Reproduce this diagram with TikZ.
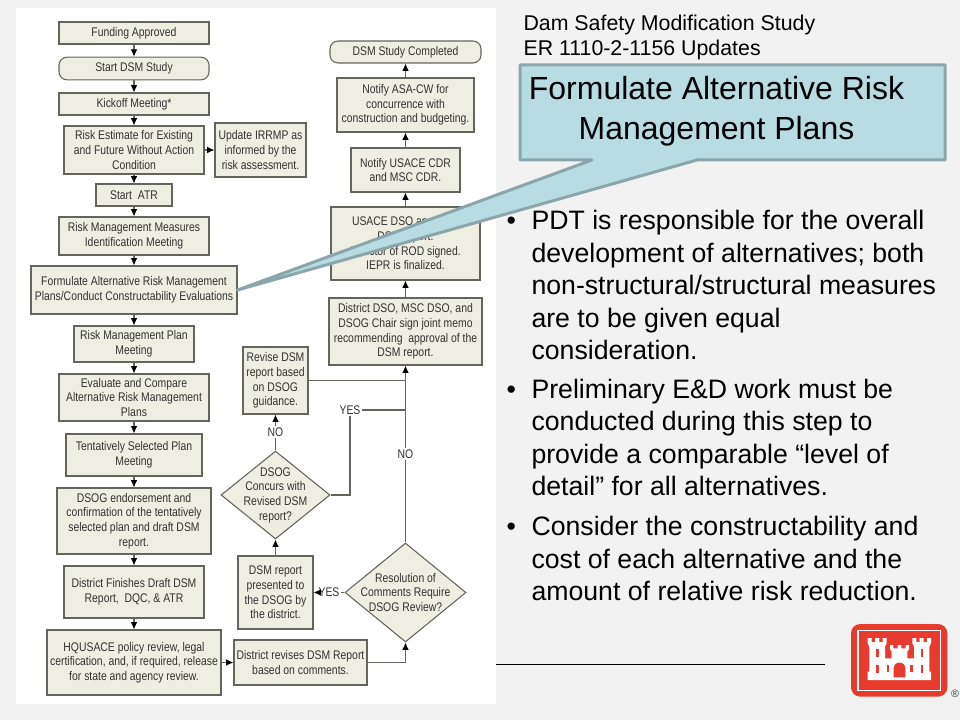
\documentclass[tikz,border=0pt]{standalone}
\usepackage{fontspec}
\setmainfont{Liberation Sans}
\newfontfamily\chartfont[FakeStretch=.83]{Liberation Sans}
\usetikzlibrary{arrows.meta,shapes.geometric}
\definecolor{slide}{HTML}{F2F2F2}
\definecolor{boxfill}{HTML}{EEEEE2}
\definecolor{boxline}{HTML}{63665D}
\definecolor{ink}{HTML}{333333}
\definecolor{callfill}{HTML}{B7DDE3}
\definecolor{callline}{HTML}{8AA6AB}
\definecolor{armyred}{HTML}{E63B2E}
\tikzset{sc/.style={x=.75pt,y=-.75pt,line width=.8pt},
  box/.style={draw=boxline,fill=boxfill,inner sep=0pt,align=center,text=ink,font=\chartfont\fontsize{9.4}{11}\selectfont},
  pill/.style={box,rounded corners=6pt},
  dmd/.style={draw=boxline,fill=boxfill,diamond,inner sep=0pt},
  lab/.style={inner sep=1pt,text=ink,font=\chartfont\fontsize{9.4}{11}\selectfont},
  dmdtext/.style={lab,inner sep=0pt,align=center},
  link/.style={draw=boxline},
  flow/.style={link,-{Latex[length=5.5pt,width=5pt,color=black]}},
  body/.style={anchor=north west,inner sep=0pt,align=left,font=\fontsize{20}{24.3}\selectfont}}

\begin{document}
\begin{tikzpicture}[sc]
  \useasboundingbox (0,0) rectangle (960,720);
  \fill[slide] (0,0) rectangle (960,720);
  \fill[white] (16,8) rectangle (496,704);
  \draw[black,line width=.75pt] (496,664)--(825,664);
  % left column, right column, side boxes
  \foreach \nm/\xa/\ya/\xb/\yb/\t in {fund/59/22/209/44/{Funding Approved},kick/59/93/209/115/{Kickoff Meeting*},
    risk/64/126/204/174/{Risk Estimate for Existing\\and Future Without Action\\Condition},
    upd/215/123/306/177/{Update IRRMP as\\informed by the\\risk assessment.},
    atr/96/184/172/206/{Start~ ATR},meas/59/217/209/255/{Risk Management Measures\\Identification Meeting},
    form/31/266/237/314/{Formulate Alternative Risk Management\\Plans/Conduct Constructability Evaluations},
    rmp/74/326/194/362/{Risk Management Plan\\Meeting},comp/59/374/209/421/{Evaluate and Compare\\Alternative Risk Management\\Plans},
    tent/66/434/202/476/{Tentatively Selected Plan\\Meeting},
    endo/57/488/211/554/{DSOG endorsement and\\confirmation of the tentatively\\selected plan and draft DSM\\report.},
    fin/64/566/204/618/{District Finishes Draft DSM\\Report,~ DQC, \& ATR},
    hq/47/630/221/695/{HQUSACE policy review, legal\\certification, and, if required, release\\for state and agency review.},
    asa/337/78/474/132/{Notify ASA-CW for\\concurrence with\\construction and budgeting.},
    cdr/351/148/460/192/{Notify USACE CDR\\and MSC CDR.},
    dso/331/207/480/280/{USACE DSO approves\\DSM report.\\Director of ROD signed.\\IEPR is finalized.},
    memo/329/298/482/365/{District DSO, MSC DSO, and\\DSOG Chair sign joint memo\\recommending~ approval of the\\DSM report.},
    rev/243/347/308/414/{Revise DSM\\report based\\on DSOG\\guidance.},
    pres/238/556/313/629/{DSM report\\presented to\\the DSOG by\\the district.},
    drev/234/640/367/685/{District revises DSM Report\\based on comments.}}{
    \node[box,minimum width={(\xb-\xa)*.75pt},minimum height={(\yb-\ya)*.75pt}] (\nm) at ({(\xa+\xb)/2},{(\ya+\yb)/2}) {\t};}
  \node[pill,minimum width=112.5pt,minimum height=17pt] (start) at (134,68.5) {Start DSM Study};
  \node[pill,minimum width=113.25pt,minimum height=16.5pt] (done) at (405.5,52) {DSM Study Completed};
  \node[dmd,minimum width=81.75pt,minimum height=66pt,aspect=1.24] (conc) at (275.5,495) {};
  \node[dmdtext] (conctext) at (conc) {DSOG\\Concurs with\\Revised DSM\\report?};
  \node[dmd,minimum width=90.75pt,minimum height=74.25pt,aspect=1.22] (res) at (405.5,592.5) {};
  \node[dmdtext] (restext) at (res) {Resolution of\\Comments Require\\DSOG Review?};
  \node[lab] (nofar) at (405.5,454) {NO};
  \node[lab] (nonear) at (275.5,432) {NO};
  \node[lab] (yesup) at (350,410) {YES};
  \node[lab] (yesleft) at (329,592.5) {YES};
  % connectors
  \foreach \a/\b in {fund/start,start/kick,kick/risk,risk/atr,atr/meas,meas/form,form/rmp,rmp/comp,comp/tent,tent/endo,endo/fin,fin/hq,memo/dso,dso/cdr,cdr/asa,asa/done,pres/conc,nonear/rev,nofar/memo}{\draw[flow] (\a)--(\b);}
  \draw[flow] (risk)--(upd);
  \draw[flow] (hq)--(drev);
  \draw[flow] (drev.east)-|(res.south);
  \draw[link] (res.north)--(nofar);
  \draw[link] (rev.east)--(rev.east-|nofar);
  \draw[link] (yesup.east)--(yesup-|nofar);
  \draw[link] (conc.east)-|(yesup.south);
  \draw[link] (conc.north)--(nonear);
  \draw[link] (res.west)--(yesleft.east);
  \draw[flow] (yesleft.west)--(pres.east);
  % callout
  \draw[fill=callfill,draw=callline,line width=2.25pt,line join=round] (520,65)--(945,65)--(945,160)--(697,160)--(form.east)--(592,160)--(520,160)--cycle;
  \node[anchor=center,inner sep=0pt,align=center,font=\fontsize{24}{30}\selectfont] (calltext) at (716.5,111) {Formulate Alternative Risk\\Management Plans};
  \node[anchor=north west,inner sep=0pt,align=left,font=\fontsize{16}{18.7}\selectfont] (head) at (523,15) {Dam Safety Modification Study\\ER 1110-2-1156 Updates};
  % bullets
  \foreach \nm/\y/\t in {pdt/210/{PDT is responsible for the overall\\development of alternatives; both\\non-structural/structural measures\\are to be given equal\\consideration.},
    prelim/378.5/{Preliminary E\&D work must be\\conducted during this step to\\provide a comparable “level of\\detail” for all alternatives.},
    cons/516/{Consider the constructability and\\cost of each alternative and the\\amount of relative risk reduction.}}{
    \node[body] (\nm) at (531,\y) {\t};
    \node[body] (\nm dot) at (506,\y+7) {•};}
  % castle
  \begin{scope}[shift={(830,610)},x=.25pt,y=-.25pt]
    \fill[armyred,rounded corners=7pt] (63,42) rectangle (352,260);
    \draw[white,line width=1.1pt] (84,61) rectangle (331,241);
    \fill[white] (113,210)--(113,185)--(118,185)--(118,110)--(113,100)--(113,84)--(125,84)--(125,96)--(135,96)--(135,84)--(148,84)--(148,96)--(158,96)--(158,84)--(170,84)--(170,100)--(165,110)--(165,145)--(185,145)--(185,125)--(180,118)--(180,105)--(190,105)--(190,115)--(203,115)--(203,105)--(214,105)--(214,115)--(227,115)--(227,105)--(237,105)--(237,118)--(232,125)--(232,145)--(252,145)--(252,110)--(247,100)--(247,84)--(259,84)--(259,96)--(269,96)--(269,84)--(281,84)--(281,96)--(291,96)--(291,84)--(303,84)--(303,100)--(298,110)--(298,185)--(303,185)--(303,210)--cycle;
    \foreach \x/\ya/\yb in {138/118/142,138/165/190,170/165/185,240/165/185,272/118/142,272/165/190}{\fill[armyred] (\x,\ya) rectangle (\x+8,\yb);}
    \fill[armyred] (191,202)--(191,175) arc[start angle=180,end angle=360,radius=17.5]--(226,202)--cycle;
  \end{scope}
  \node[inner sep=0pt,text=ink,font=\fontsize{8}{8}\selectfont] (mark) at (955,694) {®};
\end{tikzpicture}
\end{document}
